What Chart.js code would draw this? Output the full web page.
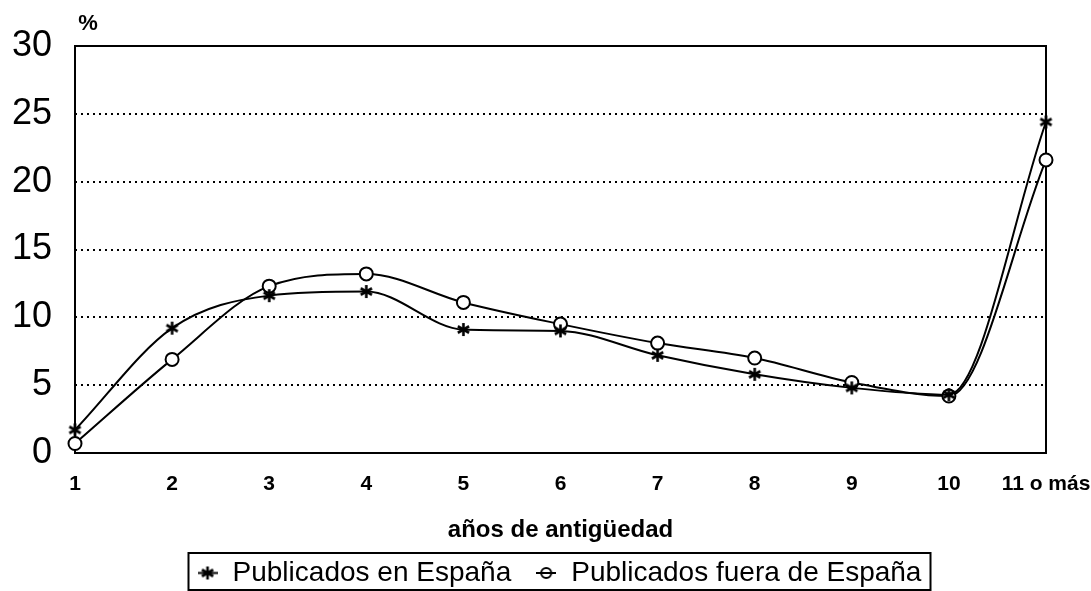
<!DOCTYPE html>
<html><head><meta charset="utf-8">
<script src="https://cdn.jsdelivr.net/npm/chart.js@4"></script>
<style>html,body{margin:0;padding:0;background:#fff;overflow:hidden}</style>
</head><body>
<canvas id="c" width="1091" height="591"></canvas>
<script>
const categories = ['1','2','3','4','5','6','7','8','9','10','11 o más'];
const espana = [1.7, 9.2, 11.6, 11.9, 9.1, 9.0, 7.2, 5.8, 4.8, 4.3, 24.4];
const fuera = [0.7, 6.9, 12.3, 13.2, 11.1, 9.5, 8.1, 7.0, 5.2, 4.2, 21.6];
const yTicks = [0, 5, 10, 15, 20, 25, 30];
const seriesNames = ['Publicados en España', 'Publicados fuera de España'];
const yUnit = '%';
const xTitle = 'años de antigüedad';

const FONT = "'Liberation Sans', Arial, Helvetica, sans-serif";

function starCanvas(withLine) {
  const w = withLine ? 20 : 15, h = 15;
  const c = document.createElement('canvas'); c.width = w; c.height = h;
  const g = c.getContext('2d');
  g.strokeStyle = '#000'; g.lineWidth = 2.6; g.lineCap = 'butt';
  const cx = w / 2, cy = h / 2, r = 6.5;
  if (withLine) { g.beginPath(); g.lineWidth = 2; g.moveTo(0, cy); g.lineTo(w, cy); g.stroke(); g.lineWidth = 2.6; }
  [90, 30, 150].forEach(a => {
    const rad = a * Math.PI / 180;
    g.beginPath();
    g.moveTo(cx - r * Math.cos(rad), cy - r * Math.sin(rad));
    g.lineTo(cx + r * Math.cos(rad), cy + r * Math.sin(rad));
    g.stroke();
  });
  return c;
}
function circleLegendCanvas() {
  const w = 20, h = 14;
  const c = document.createElement('canvas'); c.width = w; c.height = h;
  const g = c.getContext('2d');
  g.strokeStyle = '#000'; g.lineWidth = 2;
  g.beginPath(); g.moveTo(0, h / 2); g.lineTo(w, h / 2); g.stroke();
  g.beginPath(); g.arc(w / 2, h / 2, 5, 0, Math.PI * 2); g.stroke();
  return c;
}
const starPt = starCanvas(false);
const legendMarks = [starCanvas(true), circleLegendCanvas()];

const framePlugin = {
  id: 'frame',
  afterLayout(chart) {
    const lg = chart.legend;
    if (lg) { lg.left = 72; lg.width = lg.right - lg.left; }
  },
  beforeDatasetsDraw(chart) {
    const {ctx, chartArea: a} = chart;
    ctx.save();
    ctx.strokeStyle = '#000'; ctx.lineWidth = 2;
    ctx.strokeRect(a.left, a.top, a.right - a.left, a.bottom - a.top);
    ctx.restore();
  },
  afterDraw(chart) {
    const {ctx, chartArea: a} = chart;
    ctx.save();
    ctx.fillStyle = '#000';
    ctx.font = 'bold 22px ' + FONT;
    ctx.textAlign = 'center'; ctx.textBaseline = 'middle';
    ctx.fillText(yUnit, a.left + 13, 24);
    const hb = chart.legend.legendHitBoxes;
    if (hb && hb.length) {
      const cy = hb[0].top + hb[0].height / 2;
      const left = hb[0].left - 9;
      const last = hb[hb.length - 1];
      const right = last.left + last.width + 8;
      ctx.strokeStyle = '#000'; ctx.lineWidth = 2;
      ctx.strokeRect(Math.round(left) + 0.5, Math.round(cy - 20), Math.round(right - left), 37);
    }
    ctx.restore();
  }
};

new Chart(document.getElementById('c'), {
  type: 'line',
  data: {
    labels: categories,
    datasets: [
      {
        label: seriesNames[0], data: espana,
        borderColor: '#000', borderWidth: 2, cubicInterpolationMode: 'monotone',
        pointStyle: starPt, pointRadius: 7, pointBackgroundColor: '#000', pointBorderColor: '#000'
      },
      {
        label: seriesNames[1], data: fuera,
        borderColor: '#000', borderWidth: 2, cubicInterpolationMode: 'monotone',
        pointStyle: 'circle', pointRadius: 6.5, pointBorderWidth: 2,
        pointBackgroundColor: '#fff', pointBorderColor: '#000'
      }
    ]
  },
  options: {
    responsive: false, animation: false, devicePixelRatio: 1,
    layout: { padding: { top: 46, right: 45, bottom: -6, left: 0 } },
    plugins: {
      tooltip: { enabled: false },
      legend: {
        position: 'bottom',
        labels: {
          usePointStyle: true, pointStyleWidth: 22, padding: 24,
          color: '#000', font: { family: FONT, size: 28 },
          generateLabels: (chart) => chart.data.datasets.map((ds, i) => ({
            text: ds.label, pointStyle: legendMarks[i], datasetIndex: i,
            fillStyle: '#000', strokeStyle: '#000', lineWidth: 0, hidden: false
          }))
        }
      }
    },
    scales: {
      x: {
        type: 'category', offset: false,
        grid: { display: false, drawTicks: false },
        border: { display: false },
        ticks: { color: '#000', font: { family: FONT, size: 21, weight: 'bold' }, padding: 19, maxRotation: 0, autoSkip: false },
        title: { display: true, text: xTitle, color: '#000', font: { family: FONT, size: 24, weight: 'bold' }, padding: { top: 0, bottom: -10 } },
        afterFit: (s) => { s.height = 82; s.paddingLeft = 0; s.paddingRight = 0; }
      },
      y: {
        min: 0, max: 30,
        afterBuildTicks: (s) => { s.ticks = yTicks.map(v => ({ value: v })); },
        grid: { color: '#000', lineWidth: 2, drawTicks: false },
        border: { display: false, dash: [2, 4] },
        ticks: { color: '#000', font: { family: FONT, size: 36 }, padding: 23 },
        afterFit: (s) => { s.width = 75; s.paddingTop = 0; s.paddingBottom = 0; }
      }
    }
  },
  plugins: [framePlugin]
});
</script>
</body></html>
